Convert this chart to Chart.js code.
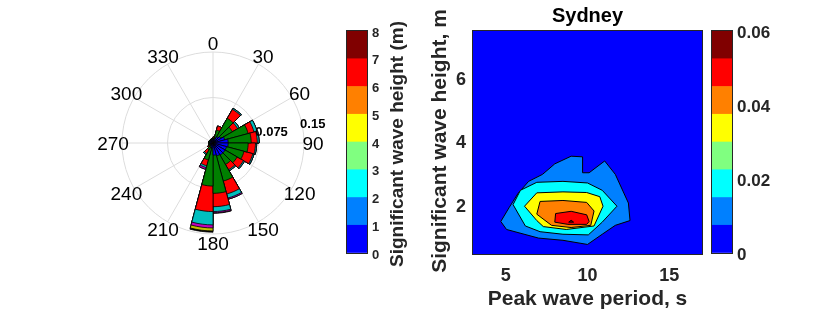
<!DOCTYPE html>
<html>
<head>
<meta charset="utf-8">
<script src="https://cdn.jsdelivr.net/npm/chart.js@4.4.1/dist/chart.umd.min.js"></script>
<style>
  html, body { margin: 0; padding: 0; background: #fff; }
  #stage { position: relative; width: 830px; height: 312px; overflow: hidden; }
  canvas { position: absolute; }
</style>
</head>
<body>
<div id="stage">
  <canvas id="rose" width="260" height="260" style="left:83px;top:13px"></canvas>
  <canvas id="barHs" width="90" height="312" style="left:340px;top:0"></canvas>
  <canvas id="joint" width="282" height="312" style="left:425px;top:0"></canvas>
  <canvas id="barP" width="125" height="312" style="left:705px;top:0"></canvas>
</div>
<script>
// ---- wave rose: 24 direction bins of 15 deg, frequency per Hs class ----
const dirLabels = ['0', '', '30', '', '60', '', '90', '', '120', '', '150', '', '180', '', '210', '', '240', '', '270', '', '300', '', '330', ''];
const rTicks = [0.075, 0.15];
const hs01 = [.005, .007, .012, .015, .020, .025, .025, .023, .023, .023, .022, .020, .008, .007, .005, .005, .005, .005, .005, .005, .005, .005, .005, .005];
const hs12 = [.003, .015, .035, .022, .040, .038, .033, .030, .023, .018, .043, .063, .063, .022, .008, .003, .002, .002, .002, .002, .002, .002, .002, .002];
const hs23 = [.002, .007, .017, .010, .010, .010, .012, .015, .012, .010, .022, .022, .042, .010, .007, .002, 0, 0, 0, 0, 0, 0, 0, 0];
const hs34 = [0, 0, .002, .003, .005, .003, .002, .002, .002, .002, .007, .008, .022, .003, .002, 0, 0, 0, 0, 0, 0, 0, 0, 0];
const hs45 = [0, 0, 0, 0, 0, 0, 0, 0, 0, 0, .002, .002, .005, .003, 0, 0, 0, 0, 0, 0, 0, 0, 0, 0];
const hs56 = [0, 0, 0, 0, 0, 0, 0, 0, 0, 0, 0, 0, .005, 0, 0, 0, 0, 0, 0, 0, 0, 0, 0, 0];
const hs6p = [0, 0, 0, 0, 0, 0, 0, 0, 0, 0, 0, .001, .002, 0, 0, 0, 0, 0, 0, 0, 0, 0, 0, 0];
const roseColors = ['#0000ff', '#008000', '#ff0000', '#00bfbf', '#bf00bf', '#bfbf00', '#000000'];

// ---- colorbars ----
const hsBarTicks = [0, 1, 2, 3, 4, 5, 6, 7, 8];
const pdfBarTicks = [0, 0.02, 0.04, 0.06];
const jet8 = ['#0000ff', '#0080ff', '#00ffff', '#80ff80', '#ffff00', '#ff8000', '#ff0000', '#800000'];

// ---- joint pdf contours (Tp [s], Hs [m]) ----
const tpRange = [3, 17];
const hsRange = [0.5, 7.5];
const lvlAzure = [[4.7, 1.52], [5.05, 1.27], [7.0, 1.0], [8.5, 0.93], [10.0, 0.8], [10.9, 1.12], [11.7, 1.4], [12.6, 1.55], [12.5, 2.1], [11.7, 3.0], [11.05, 3.42], [10.1, 3.05], [9.7, 3.05], [9.7, 3.55], [9.0, 3.57], [8.0, 3.33], [7.25, 3.0], [6.4, 2.78], [5.75, 2.4], [5.2, 1.95]];
const lvlCyan = [[5.45, 2.05], [5.9, 2.5], [6.9, 2.75], [8.5, 2.78], [10.0, 2.73], [10.9, 2.5], [11.8, 2.0], [10.9, 1.5], [10.05, 1.1], [8.5, 1.12], [7.1, 1.2], [6.2, 1.38]];
const lvlYellow = [[6.15, 2.0], [6.9, 2.42], [8.5, 2.45], [9.95, 2.43], [10.75, 2.3], [10.95, 2.0], [10.4, 1.38], [8.7, 1.27], [7.3, 1.36], [6.9, 1.55]];
const lvlOrange = [[6.9, 1.75], [7.1, 2.15], [8.5, 2.18], [9.95, 2.12], [10.4, 1.85], [10.2, 1.4], [9.0, 1.33], [7.8, 1.4]];
const lvlRed = [[8.0, 1.5], [8.05, 1.77], [9.0, 1.84], [9.95, 1.73], [10.1, 1.52], [9.95, 1.43], [8.8, 1.43]];
const lvlPeak = [[8.85, 1.5], [9.0, 1.56], [9.15, 1.5]];

const FONT = '"Liberation Sans", Arial, Helvetica, sans-serif';
const INK = '#262626';
Chart.defaults.font.family = FONT;
Chart.defaults.color = INK;

const frame = {
  id: 'frame',
  afterDraw(chart) {
    const { ctx, chartArea: a } = chart;
    ctx.save();
    ctx.strokeStyle = INK;
    ctx.lineWidth = 1;
    ctx.strokeRect(a.left - 0.5, a.top - 0.5, a.right - a.left + 1, a.bottom - a.top + 1);
    ctx.restore();
  }
};

const vLabel = (text, x, y, size) => ({
  id: 'vLabel',
  afterDraw(chart) {
    const ctx = chart.ctx;
    ctx.save();
    ctx.translate(x, y);
    ctx.rotate(-Math.PI / 2);
    ctx.font = `bold ${size}px ${FONT}`;
    ctx.fillStyle = INK;
    ctx.textAlign = 'center';
    ctx.textBaseline = 'middle';
    ctx.fillText(text, 0, 0);
    ctx.restore();
  }
});

// matlab centres the angle labels on a ring just outside the outer circle,
// and puts the radial tick labels along an 80 deg ray
const labelGap = 9;
const roseText = {
  id: 'roseText',
  afterDraw(chart) {
    const s = chart.scales.r;
    const ctx = chart.ctx;
    ctx.save();
    ctx.fillStyle = '#000';
    ctx.font = `19px ${FONT}`;
    ctx.textAlign = 'center';
    ctx.textBaseline = 'middle';
    dirLabels.forEach((lbl, i) => {
      if (!lbl) return;
      const p = s.getPointPosition(i, s.drawingArea + labelGap);
      ctx.fillText(lbl, p.x, p.y + 1.5);
    });
    const a = 80 * Math.PI / 180;
    ctx.font = `bold 13px ${FONT}`;
    ctx.textAlign = 'left';
    ctx.textBaseline = 'bottom';
    rTicks.forEach((v) => {
      const d = s.getDistanceFromCenterForValue(v);
      ctx.fillText(String(v), s.xCenter + d * Math.sin(a) - 2.5, s.yCenter - d * Math.cos(a) + 4);
    });
    ctx.restore();
  }
};

// cumulative stacks, smallest first so it is drawn on top
let run = new Array(dirLabels.length).fill(0);
const roseSets = [hs01, hs12, hs23, hs34, hs45, hs56, hs6p].map((f, k) => {
  run = run.map((v, i) => v + f[i]);
  return {
    data: run.slice(),
    backgroundColor: roseColors[k],
    borderColor: '#000',
    borderWidth: 0.8,
    borderJoinStyle: 'miter'
  };
});

new Chart(document.getElementById('rose'), {
  type: 'polarArea',
  data: { labels: dirLabels, datasets: roseSets },
  options: {
    responsive: false,
    animation: false,
    layout: { padding: 39 },
    plugins: { legend: { display: false }, tooltip: { enabled: false } },
    scales: {
      r: {
        min: 0,
        max: rTicks[rTicks.length - 1],
        startAngle: 0,
        ticks: { display: false, stepSize: rTicks[0] },
        grid: { circular: true, color: '#dcdcdc' },
        angleLines: { display: true, color: '#dcdcdc', lineWidth: (c) => (c.index % 2 ? 0 : 1) },
        pointLabels: { display: false }
      }
    }
  },
  plugins: [roseText]
});

const colorbar = (id, ticks, opts) => {
  const max = ticks[ticks.length - 1];
  const step = max / jet8.length;
  return new Chart(document.getElementById(id), {
    type: 'bar',
    data: {
      labels: [''],
      datasets: jet8.map((c) => ({ data: [step], backgroundColor: c, borderWidth: 0, barPercentage: 1, categoryPercentage: 1 }))
    },
    options: {
      responsive: false,
      animation: false,
      layout: { padding: { left: opts.padLeft, top: 31, bottom: 59, right: 0 } },
      plugins: { legend: { display: false }, tooltip: { enabled: false } },
      scales: {
        x: { stacked: true, display: false },
        y: {
          stacked: true,
          position: 'right',
          min: 0,
          max,
          afterBuildTicks: (s) => { s.ticks = ticks.map((v) => ({ value: v })); },
          ticks: { padding: 8, labelOffset: 2, color: INK, font: { size: opts.fontSize, weight: 'bold' } },
          grid: { display: true, drawOnChartArea: false, drawTicks: true, tickLength: -3, color: INK },
          border: { display: false },
          afterFit: (s) => { s.width = opts.axisWidth; }
        }
      }
    },
    plugins: opts.plugins
  });
};

colorbar('barHs', hsBarTicks, {
  padLeft: 7, fontSize: 13, axisWidth: 63,
  plugins: [frame, vLabel('Significant wave height (m)', 58, 144, 19)]
});
colorbar('barP', pdfBarTicks, { padLeft: 7, fontSize: 17, axisWidth: 98, plugins: [frame] });

const blueBack = {
  id: 'blueBack',
  beforeDatasetsDraw(chart) {
    const { ctx, chartArea: a } = chart;
    ctx.save();
    ctx.fillStyle = jet8[0];
    ctx.fillRect(a.left, a.top, a.right - a.left, a.bottom - a.top);
    ctx.restore();
  }
};

const closed = (p) => p.concat([p[0]]);
const contourSets = [
  [lvlAzure, jet8[1]], [lvlCyan, jet8[2]], [lvlYellow, jet8[4]],
  [lvlOrange, jet8[5]], [lvlRed, jet8[6]], [lvlPeak, jet8[7]]
].reverse().map(([pts, color]) => ({
  data: closed(pts),
  showLine: true,
  fill: 'shape',
  backgroundColor: color,
  borderColor: '#000',
  borderWidth: 1,
  pointRadius: 0,
  tension: 0
}));

const gridStyle = { color: 'rgba(255,255,255,0.7)', lineWidth: 1, drawTicks: false };

new Chart(document.getElementById('joint'), {
  type: 'scatter',
  data: { datasets: contourSets },
  options: {
    responsive: false,
    animation: false,
    layout: { padding: { left: 0, right: 5, top: 0, bottom: 0 } },
    plugins: {
      legend: { display: false },
      tooltip: { enabled: false },
      title: {
        display: true, text: 'Sydney', color: '#000', fullSize: false,
        font: { size: 20, weight: 'bold' }, padding: { top: 4, bottom: 3 }
      }
    },
    scales: {
      x: {
        type: 'linear', min: tpRange[0], max: tpRange[1], z: 1,
        ticks: { stepSize: 5, includeBounds: false, padding: 11, color: INK, font: { size: 18, weight: 'bold' } },
        grid: gridStyle,
        border: { display: false, dash: [1, 2] },
        title: { display: true, text: 'Peak wave period, s', color: INK, font: { size: 21, weight: 'bold' }, padding: { top: 0, bottom: 0 } },
        afterFit: (s) => { s.height = 58; }
      },
      y: {
        type: 'linear', min: hsRange[0], max: hsRange[1], z: 1,
        ticks: { stepSize: 2, includeBounds: false, padding: 7, labelOffset: 1, color: INK, font: { size: 18, weight: 'bold' } },
        grid: gridStyle,
        border: { display: false, dash: [1, 2] },
        afterFit: (s) => { s.width = 48; }
      }
    }
  },
  plugins: [blueBack, frame, vLabel('Significant wave height, m', 15, 141, 21)]
});
</script>
</body>
</html>
